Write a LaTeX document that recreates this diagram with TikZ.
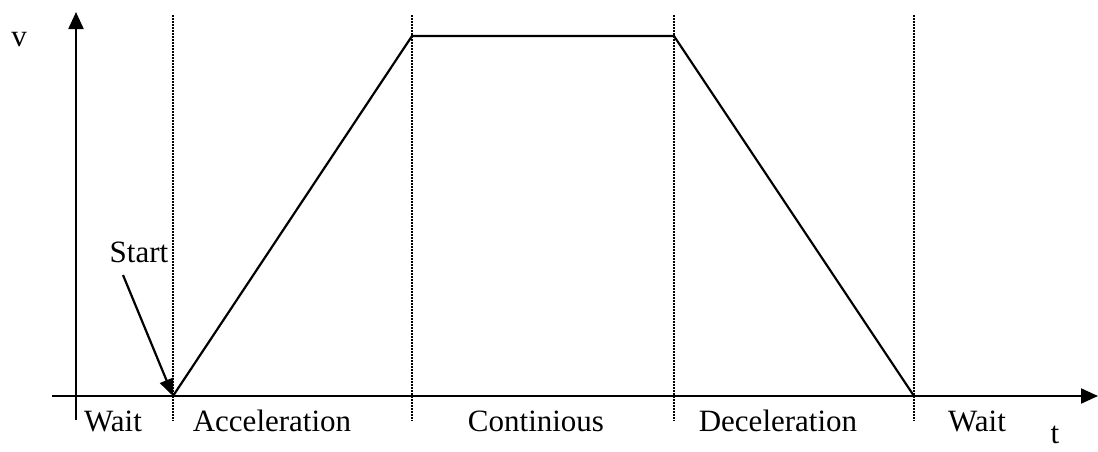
\documentclass[tikz,border=0pt]{standalone}
\usepackage{fontspec}
\setmainfont{Liberation Serif}
\usetikzlibrary{arrows.meta}
\begin{document}
\begin{tikzpicture}[x=1pt,y=-1pt,
  axis/.style={line width=2.2pt,-{Triangle[length=17pt,width=15pt]}},
  guide/.style={line width=1.6pt,dash pattern=on 1.5pt off 1.5pt},
  curve/.style={line width=2.2pt,line join=miter},
  lbl/.style={anchor=base,inner sep=0pt,font=\fontsize{31}{37}\selectfont}]
\useasboundingbox (0,0) rectangle (1098,451);
% axes
\coordinate (xo) at (52,396);
\coordinate (xe) at (1098,396);
\coordinate (yb) at (76,420);
\coordinate (yt) at (76,12);
\draw[axis] (xo) -- (xe);
\draw[axis] (yb) -- (yt);
% guides
\foreach \n/\x in {g1/173,g2/412,g3/674,g4/914}{
  \coordinate (\n t) at (\x,15);
  \coordinate (\n b) at (\x,421);
  \draw[guide] (\n t) -- (\n b);
}
% velocity profile
\coordinate (p0) at (173,396);
\coordinate (p1) at (412,36);
\coordinate (p2) at (674,36);
\coordinate (p3) at (914,396);
\draw[curve] (p0) -- (p1) -- (p2) -- (p3);
% labels
\node[lbl] (v) at (19,46) {v};
\node[lbl] (t) at (1055,443) {t};
\node[lbl] (start) at (139,262) {Start};
\node[lbl] (w1) at (113,431) {Wait};
\node[lbl] (acc) at (272,431) {Acceleration};
\node[lbl] (con) at (536,431) {Continious};
\node[lbl] (dec) at (778,431) {Deceleration};
\node[lbl] (w2) at (977,431) {Wait};
% start arrow
\coordinate (st) at (123,275);
\draw[line width=2.2pt,-{Triangle[length=17pt,width=14pt]}] (st) -- (p0);
\end{tikzpicture}
\end{document}
